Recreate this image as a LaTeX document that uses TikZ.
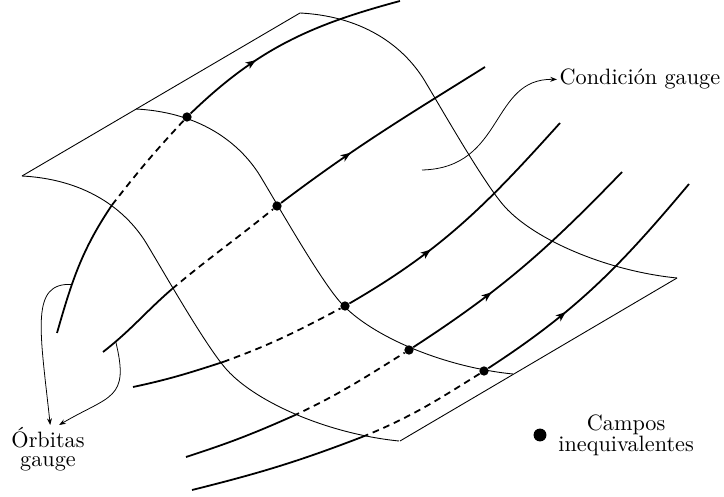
\documentclass[tikz,border=0pt]{standalone}
\usepackage{tikz}
\usetikzlibrary{arrows.meta,decorations.markings,positioning}

\tikzset{
	sheet/.style={line width=0.4pt},
	orbit/.style={line width=0.8pt},
	hidden/.style={orbit, dash pattern=on 3pt off 2.2pt},
	flow/.style={orbit, postaction={decorate},
		decoration={markings, mark=at position 0.35 with {\arrow{Stealth[length=4.5pt,width=3.4pt,inset=1.2pt]}}}},
	field/.style={circle, fill, inner sep=0pt, minimum size=4.2pt},
	pointer/.style={line width=0.35pt, -{Stealth[length=3pt,width=2.2pt]}},
	sheetcurve/.pic={\draw[sheet] (0,0) .. controls (75,4) and (111,44) .. (126,70)
		.. controls (144,100) and (185,172) .. (205,194) .. controls (235,227) and (307,258) .. (377,265);}
}

\begin{document}
\begin{tikzpicture}[x=0.45pt,y=-0.45pt]
	\useasboundingbox (0,0) rectangle (724,497);

	\coordinate (A) at (22,176);
	\coordinate (B) at (300,13);
	\coordinate (C) at (677,278);
	\coordinate (D) at (400,441);
	\coordinate (M) at (136,109);
	\draw[sheet] (A) -- (B);
	\draw[sheet] (C) -- (D);
	\pic at (A) {sheetcurve};
	\pic at (B) {sheetcurve};
	\pic at (M) {sheetcurve};

	\node[field] (d1) at (187,117) {};
	\node[field] (d2) at (277,206) {};
	\node[field] (d3) at (345,306) {};
	\node[field] (d4) at (409,350) {};
	\node[field] (d5) at (484,371) {};

	\coordinate (s1) at (57,333);  \coordinate (f1) at (112,205); \coordinate (e1) at (400,1);
	\coordinate (s2) at (103,352); \coordinate (f2) at (172,289); \coordinate (e2) at (485,67);
	\coordinate (s3) at (133,387); \coordinate (f3) at (223,362); \coordinate (e3) at (560,123);
	\coordinate (s4) at (186,457); \coordinate (f4) at (293,416); \coordinate (e4) at (622,172);
	\coordinate (s5) at (192,490); \coordinate (f5) at (362,437); \coordinate (e5) at (689,184);

	\draw[orbit] (s1) to[out=74,in=236] coordinate[pos=0.35] (a1) (f1);
	\draw[hidden] (f1) to[out=52,in=227] (d1);
	\draw[flow] (d1) to[out=44,in=195] (e1);

	\draw[orbit] (s2) to[out=38,in=221] coordinate[pos=0.16] (a2) (f2);
	\draw[hidden] (f2) to[out=40,in=219] (d2);
	\draw[flow] (d2) to[out=37,in=212] (e2);

	\draw[orbit] (s3) to[out=12,in=198] (f3);
	\draw[hidden] (f3) to[out=20,in=208] (d3);
	\draw[flow] (d3) to[out=30,in=228] (e3);

	\draw[orbit] (s4) to[out=18,in=204] (f4);
	\draw[hidden] (f4) to[out=25,in=212] (d4);
	\draw[flow] (d4) to[out=33,in=226] (e4);

	\draw[orbit] (s5) to[out=14,in=201] (f5);
	\draw[hidden] (f5) to[out=22,in=212] (d5);
	\draw[flow] (d5) to[out=33,in=230] (e5);

	\node[anchor=base west, inner sep=1pt] (cond) at (557,85) {Condición gauge};
	\coordinate (c0) at (422,170);
	\draw[pointer] (c0) .. controls (505,168) and (490,78) .. (cond.west);

	\node[anchor=north, align=center, inner sep=1pt] (orb) at (48,425) {Órbitas\\[-3.5pt]gauge};
	\draw[pointer] (a1) .. controls (30,282) and (40,330) .. ([xshift=1pt]orb.north);
	\draw[pointer] (a2) .. controls (130,400) and (110,395) .. ([xshift=5pt]orb.north);

	\node[field, minimum size=5.8pt] (key) at (540,435) {};
	\node[right=4pt of key, align=center, inner sep=1pt] (keytext) {Campos\\[-2.7pt]inequivalentes};
\end{tikzpicture}
\end{document}
